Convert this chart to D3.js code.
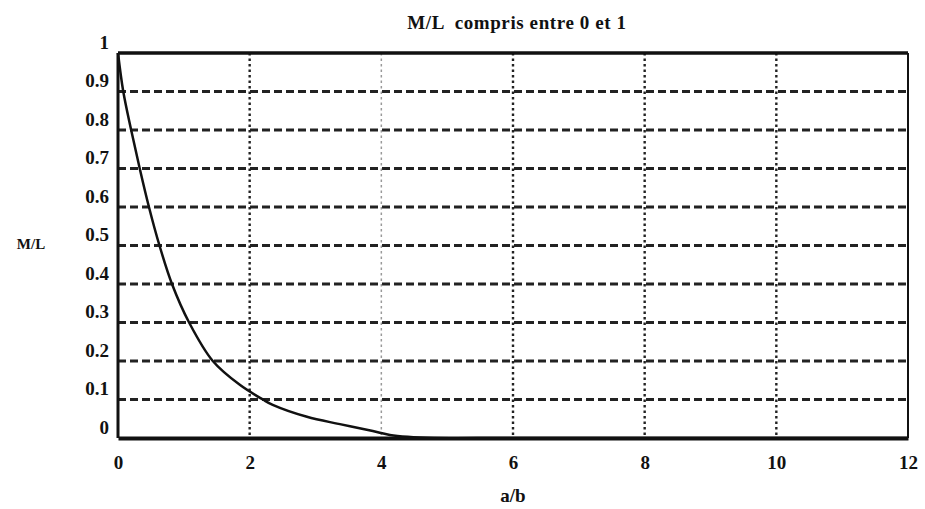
<!DOCTYPE html>
<html>
<head>
<meta charset="utf-8">
<script src="https://cdn.jsdelivr.net/npm/d3@7"></script>
<style>
  body { margin: 0; background: #fff; }
  text { font-family: "Liberation Serif", "DejaVu Serif", serif; font-weight: bold; fill: #111; }
</style>
</head>
<body>
<svg id="chart" width="925" height="509"></svg>
<script>
// ---- data ----
const xValues = [0, 0.08, 0.2, 0.33, 0.47, 0.63, 0.82, 1.08, 1.44, 1.85, 2.2, 2.35, 2.87, 3.37, 3.87, 4.13, 4.4, 4.8, 6, 12];
const yValues = [1, 0.9, 0.8, 0.7, 0.6, 0.5, 0.4, 0.3, 0.2, 0.138, 0.1, 0.086, 0.055, 0.036, 0.018, 0.008, 0.003, 0, 0, 0];
const xTicks = [0, 2, 4, 6, 8, 10, 12];
const yTicks = [0, 0.1, 0.2, 0.3, 0.4, 0.5, 0.6, 0.7, 0.8, 0.9, 1];
const title = "M/L  compris entre 0 et 1";
const xLabel = "a/b";
const yLabel = "M/L";

// ---- layout ----
const mLeft = 118, mRight = 908, mTop = 53, mBottom = 438;
const svg = d3.select("#chart");
const x = d3.scaleLinear().domain([0, 12]).range([mLeft, mRight]);
const y = d3.scaleLinear().domain([0, 1]).range([mBottom, mTop]);

// horizontal dashed grid
svg.append("g").selectAll("line")
  .data(yTicks.filter(d => d > 0 && d < 1))
  .join("line")
  .attr("x1", mLeft).attr("x2", mRight)
  .attr("y1", d => y(d)).attr("y2", d => y(d))
  .attr("stroke", "#222").attr("stroke-width", 3)
  .attr("stroke-dasharray", "8,4");

// vertical dotted grid
svg.append("g").selectAll("line")
  .data(xTicks.filter(d => d > 0 && d < 12))
  .join("line")
  .attr("x1", d => x(d)).attr("x2", d => x(d))
  .attr("y1", mTop).attr("y2", mBottom)
  .attr("stroke", d => d === 4 ? "#999" : "#222")
  .attr("stroke-width", d => d === 4 ? 1.5 : 2.4)
  .attr("stroke-dasharray", "2.5,3");

// frame
svg.append("line").attr("x1", mLeft).attr("x2", mRight).attr("y1", mTop).attr("y2", mTop)
  .attr("stroke", "#111").attr("stroke-width", 3.5);
svg.append("line").attr("x1", mRight).attr("x2", mRight).attr("y1", mTop).attr("y2", mBottom)
  .attr("stroke", "#111").attr("stroke-width", 2);
svg.append("line").attr("x1", mLeft).attr("x2", mLeft).attr("y1", mTop).attr("y2", mBottom)
  .attr("stroke", "#111").attr("stroke-width", 3);

// curve
const pts = xValues.map((v, i) => [v, yValues[i]]);
svg.append("path")
  .datum(pts)
  .attr("fill", "none")
  .attr("stroke", "#111")
  .attr("stroke-width", 2.5)
  .attr("d", d3.line().x(d => x(d[0])).y(d => y(d[1])).curve(d3.curveCatmullRom.alpha(0.5)));

// x axis
const xAxis = svg.append("g").attr("transform", `translate(0,${mBottom})`)
  .call(d3.axisBottom(x).tickValues(xTicks).tickSize(0).tickFormat(d3.format("d")));
xAxis.select(".domain").attr("stroke", "#111").attr("stroke-width", 4);
xAxis.selectAll("text").attr("font-size", 19).attr("dy", "1.45em")
  .style("font-family", "'Liberation Serif', serif").style("font-weight", "bold");

// y axis
const yAxis = svg.append("g").attr("transform", `translate(${mLeft},0)`)
  .call(d3.axisLeft(y).tickValues(yTicks).tickSize(0).tickFormat(d => d === 0 ? "0" : d === 1 ? "1" : d3.format(".1f")(d)));
yAxis.select(".domain").remove();
yAxis.selectAll("text").attr("font-size", 19).attr("x", -9).attr("dy", "-0.25em")
  .style("font-family", "'Liberation Serif', serif").style("font-weight", "bold");

// title and axis labels
svg.append("text").attr("x", 517).attr("y", 29).attr("text-anchor", "middle")
  .attr("font-size", 19).style("white-space", "pre").attr("letter-spacing", 0.6).text(title);
svg.append("text").attr("x", 513).attr("y", 502).attr("text-anchor", "middle")
  .attr("font-size", 19).text(xLabel);
svg.append("text").attr("x", 31).attr("y", 249).attr("text-anchor", "middle")
  .attr("font-size", 15).text(yLabel);
</script>
</body>
</html>
